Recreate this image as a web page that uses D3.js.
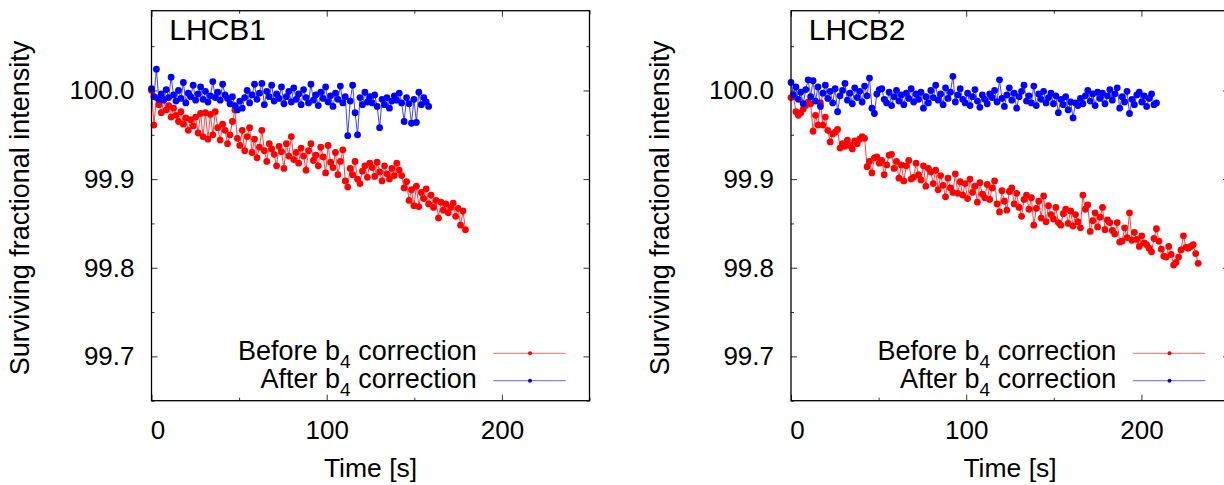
<!DOCTYPE html>
<html><head><meta charset="utf-8">
<script src="https://cdn.jsdelivr.net/npm/d3@7"></script>
<style>
body{margin:0;background:#fff}
svg{display:block}
text{font-family:"Liberation Sans",Arial,Helvetica,sans-serif;fill:#000}
</style>
</head><body><svg id="c" width="1224" height="485"></svg>
<script>
// ---- data ----
const stepSec = 1.4; // sampling interval of the measurements [s]
const panelTitles = ["LHCB1", "LHCB2"];
const legendLabels = ["Before", "After"];
const xTicks = [0, 100, 200];
const xMinorTicks = [50, 150, 250];
const yTicks = [99.7, 99.8, 99.9, 100.0];
const yMinorTicks = [99.65, 99.75, 99.85, 99.95, 100.05];
const xLabel = "Time [s]";
const yLabel = "Surviving fractional intensity";

const lhcb1Before = [
100.000,99.961,99.992,99.984,99.975,99.990,99.978,99.983,99.970,99.980,
99.972,99.965,99.976,99.962,99.969,99.955,99.967,99.960,99.970,99.952,
99.974,99.948,99.975,99.945,99.973,99.950,99.976,99.958,99.944,99.962,
99.955,99.940,99.950,99.965,99.978,99.946,99.938,99.955,99.932,99.948,
99.958,99.930,99.945,99.924,99.936,99.955,99.932,99.920,99.940,99.934,
99.928,99.915,99.937,99.931,99.912,99.940,99.926,99.948,99.922,99.930,
99.918,99.935,99.926,99.910,99.932,99.940,99.921,99.927,99.915,99.936,
99.925,99.907,99.938,99.919,99.913,99.930,99.905,99.920,99.933,99.898,
99.891,99.912,99.905,99.920,99.900,99.895,99.909,99.915,99.902,99.918,
99.913,99.903,99.919,99.908,99.898,99.915,99.906,99.900,99.912,99.904,
99.918,99.910,99.904,99.890,99.897,99.876,99.888,99.870,99.892,99.869,
99.885,99.878,99.889,99.872,99.882,99.868,99.876,99.856,99.874,99.865,
99.872,99.862,99.868,99.873,99.858,99.867,99.848,99.864,99.843];

const lhcb1After = [
100.002,99.993,100.024,99.990,99.996,99.989,100.001,99.992,100.015,99.995,
99.988,100.000,99.991,100.009,99.986,99.997,99.993,100.006,99.989,99.996,
100.004,99.990,99.999,99.987,99.994,100.010,99.992,99.998,99.989,100.007,
99.995,99.991,99.985,99.993,99.983,99.978,99.988,99.980,99.992,100.000,
99.986,99.995,100.007,99.990,99.997,100.008,99.984,99.999,99.993,100.006,
99.988,99.996,99.991,100.004,99.985,99.993,99.999,99.987,100.003,99.990,
99.996,99.984,100.001,99.992,99.986,100.007,99.989,99.995,99.983,99.998,
99.991,100.004,99.987,99.994,99.982,99.997,99.990,100.005,99.986,99.993,
99.949,99.988,100.006,99.975,99.950,99.992,99.984,99.998,99.987,99.993,
99.986,99.995,99.982,99.958,99.990,99.984,99.992,99.980,99.988,99.994,
99.989,99.997,99.986,99.965,99.992,99.985,99.963,99.990,99.964,99.998,
99.984,99.992,99.987,99.982];

const lhcb2Before = [
99.992,99.993,99.976,99.972,99.975,99.979,99.983,99.987,99.985,99.954,
99.972,99.961,99.986,99.961,99.970,99.955,99.942,99.951,99.953,99.956,
99.935,99.940,99.937,99.944,99.938,99.934,99.943,99.940,99.945,99.948,
99.946,99.914,99.920,99.907,99.924,99.925,99.918,99.921,99.905,99.916,
99.927,99.928,99.912,99.920,99.901,99.916,99.898,99.915,99.921,99.900,
99.902,99.918,99.905,99.899,99.915,99.892,99.912,99.908,99.895,99.910,
99.888,99.904,99.893,99.880,99.901,99.890,99.885,99.906,99.884,99.897,
99.882,99.895,99.878,99.900,99.885,99.892,99.874,99.896,99.883,99.879,
99.894,99.877,99.890,99.898,99.872,99.863,99.887,99.875,99.865,99.886,
99.890,99.872,99.884,99.868,99.858,99.877,99.882,99.866,99.879,99.848,
99.867,99.875,99.856,99.881,99.852,99.870,99.860,99.855,99.868,99.851,
99.848,99.861,99.866,99.850,99.864,99.847,99.860,99.852,99.845,99.882,
99.866,99.871,99.841,99.853,99.862,99.846,99.857,99.868,99.843,99.854,
99.851,99.842,99.838,99.851,99.829,99.830,99.845,99.834,99.862,99.831,
99.840,99.832,99.824,99.836,99.828,99.826,99.822,99.818,99.833,99.844,
99.830,99.821,99.813,99.812,99.824,99.815,99.803,99.806,99.812,99.820,
99.836,99.823,99.822,99.824,99.826,99.816,99.805];

const lhcb2After = [
100.009,99.995,100.004,99.990,99.998,99.985,100.001,100.012,99.993,100.011,
99.988,100.004,99.982,99.997,100.006,99.991,99.999,99.986,100.002,99.976,
99.994,100.000,100.008,99.989,99.997,99.985,100.003,99.992,99.999,99.987,
100.005,99.994,100.014,99.980,99.974,99.996,100.001,100.002,99.990,99.986,
99.998,99.983,99.993,100.000,99.988,99.995,99.984,99.997,99.991,100.002,
99.987,99.996,99.990,99.998,99.980,99.993,99.986,100.000,99.992,100.006,
99.989,99.996,99.984,100.003,99.991,99.998,100.016,99.987,99.995,100.002,
99.990,99.986,99.997,99.983,99.993,100.001,99.988,99.981,99.995,99.990,
99.985,99.996,99.992,100.000,99.987,100.012,99.991,99.982,99.995,100.003,
99.989,99.997,99.980,99.993,99.999,100.006,99.988,99.994,99.986,100.005,
99.983,99.996,99.990,99.999,99.986,99.992,99.997,99.985,99.994,99.975,
99.990,99.984,99.993,99.978,99.987,99.969,99.986,99.983,99.991,99.985,
99.994,100.000,99.988,99.996,99.983,99.998,99.991,99.997,99.985,99.994,
100.001,99.989,99.996,100.003,99.980,99.993,99.987,99.999,99.974,99.990,
99.984,99.995,99.998,99.987,99.994,99.982,99.991,99.996,99.984,99.986];

const panelSeries = [[lhcb1Before, lhcb1After], [lhcb2Before, lhcb2After]];
const seriesColors = ["#ff0000", "#0000ff"];

// ---- layout ----
const svg = d3.select("#c");
const W = 438, H = 390, TOP = 10.7;
const lefts = [151.5, 791];

panelTitles.forEach((title, p) => {
  const L = lefts[p];
  const x = d3.scaleLinear().domain([0, 250]).range([L, L + W]);
  const y = d3.scaleLinear().domain([99.65, 100.09]).range([TOP + H, TOP]);
  const g = svg.append("g");

  function styleAxis(a) {
    a.select(".domain").remove();
    a.selectAll(".tick line").attr("stroke", "#333").attr("stroke-width", 1);
    a.selectAll("text").attr("font-size", 26).attr("font-family", null).attr("fill", "#000");
    a.attr("font-family", null).attr("font-size", null);
  }
  // major ticks with labels
  g.append("g").attr("transform", `translate(0,${TOP + H})`)
    .call(d3.axisBottom(x).tickValues(xTicks).tickSize(-6).tickPadding(20).tickFormat(d3.format("d")))
    .call(styleAxis)
    .call(a => a.selectAll(".tick text").attr("dx", d => d === 0 ? 6 : 0));
  g.append("g").attr("transform", `translate(${L},0)`)
    .call(d3.axisLeft(y).tickValues(yTicks).tickSize(-6).tickPadding(17).tickFormat(d3.format(".1f")))
    .call(styleAxis);
  // minor ticks and mirrored ticks
  g.append("g").attr("transform", `translate(0,${TOP + H})`)
    .call(d3.axisBottom(x).tickValues(xMinorTicks).tickSize(-3).tickFormat("")).call(styleAxis);
  g.append("g").attr("transform", `translate(${L},0)`)
    .call(d3.axisLeft(y).tickValues(yMinorTicks).tickSize(-3).tickFormat("")).call(styleAxis);
  g.append("g").attr("transform", `translate(0,${TOP})`)
    .call(d3.axisTop(x).tickValues(xTicks).tickSize(-6).tickFormat("")).call(styleAxis);
  g.append("g").attr("transform", `translate(0,${TOP})`)
    .call(d3.axisTop(x).tickValues(xMinorTicks).tickSize(-3).tickFormat("")).call(styleAxis);
  g.append("g").attr("transform", `translate(${L + W},0)`)
    .call(d3.axisRight(y).tickValues(yTicks).tickSize(-6).tickFormat("")).call(styleAxis);
  g.append("g").attr("transform", `translate(${L + W},0)`)
    .call(d3.axisRight(y).tickValues(yMinorTicks).tickSize(-3).tickFormat("")).call(styleAxis);

  // data
  const line = d3.line().x((d, i) => x(i * stepSec)).y(d => y(d));
  panelSeries[p].forEach((vals, s) => {
    g.append("path").datum(vals).attr("d", line)
      .attr("fill", "none").attr("stroke", seriesColors[s]).attr("stroke-width", 1).attr("stroke-opacity", 0.75);
    g.append("g").selectAll("circle").data(vals).join("circle")
      .attr("cx", (d, i) => x(i * stepSec)).attr("cy", d => y(d)).attr("r", 3.4)
      .attr("fill", seriesColors[s]);
  });

  // frame
  g.append("rect").attr("x", L).attr("y", TOP).attr("width", W).attr("height", H)
    .attr("fill", "none").attr("stroke", "#000").attr("stroke-width", 1.3);

  // title
  g.append("text").attr("x", L + 17.8).attr("y", 39.5).attr("font-size", 30).text(title);

  // axis titles
  g.append("text").attr("x", L + W / 2).attr("y", 477).attr("text-anchor", "middle")
    .attr("font-size", 26.5).text(xLabel);
  g.append("text").attr("transform", `translate(${L - 122.5},208) rotate(-90)`)
    .attr("text-anchor", "middle").attr("font-size", 27).text(yLabel);

  // legend
  const legY = [353.3, 380.7];
  legendLabels.forEach((lab, s) => {
    const t = g.append("text").attr("x", L + 325.2).attr("y", legY[s] + 6.8)
      .attr("text-anchor", "end").attr("font-size", 27);
    t.append("tspan").text(lab + " b");
    t.append("tspan").attr("font-size", 19).attr("dy", 8).text("4");
    t.append("tspan").attr("dy", -8).text(" correction");
    g.append("line").attr("x1", L + 341.8).attr("x2", L + 414.2).attr("y1", legY[s]).attr("y2", legY[s])
      .attr("stroke", seriesColors[s]).attr("stroke-width", 1).attr("stroke-opacity", 0.6);
    g.append("circle").attr("cx", L + 378.5).attr("cy", legY[s]).attr("r", 2).attr("fill", seriesColors[s]);
  });
});
</script>
</body></html>
